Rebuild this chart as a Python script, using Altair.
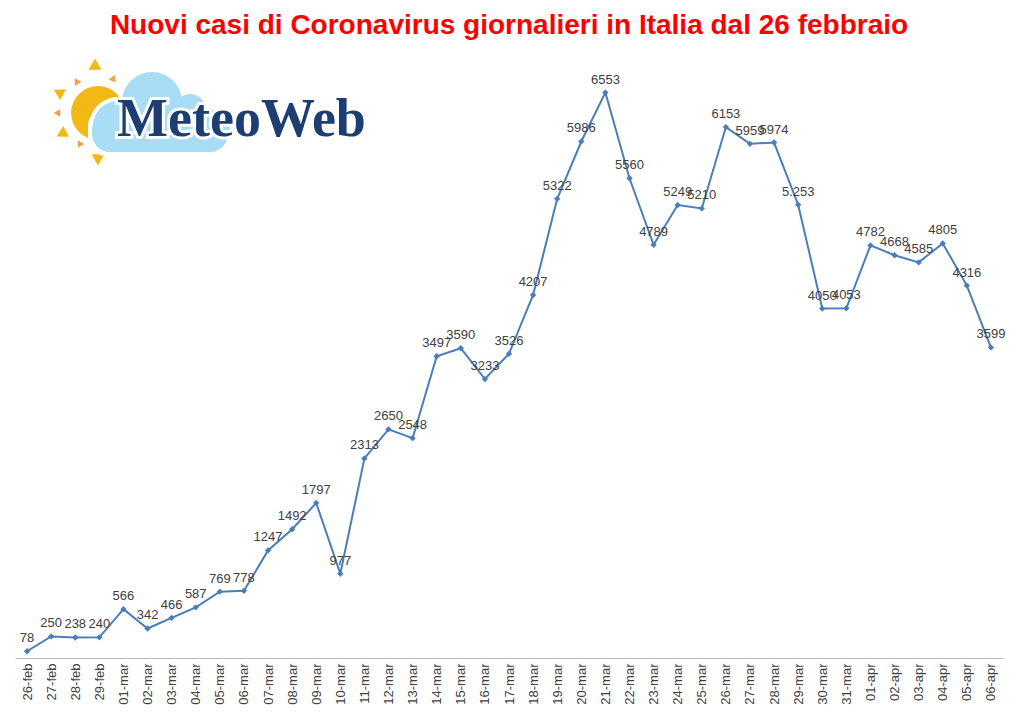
import altair as alt
import pandas as pd

dates = ["26-feb", "27-feb", "28-feb", "29-feb",
         "01-mar", "02-mar", "03-mar", "04-mar", "05-mar", "06-mar", "07-mar", "08-mar",
         "09-mar", "10-mar", "11-mar", "12-mar", "13-mar", "14-mar", "15-mar", "16-mar",
         "17-mar", "18-mar", "19-mar", "20-mar", "21-mar", "22-mar", "23-mar", "24-mar",
         "25-mar", "26-mar", "27-mar", "28-mar", "29-mar", "30-mar", "31-mar",
         "01-apr", "02-apr", "03-apr", "04-apr", "05-apr", "06-apr"]
cases = [78, 250, 238, 240,
         566, 342, 466, 587, 769, 778, 1247, 1492,
         1797, 977, 2313, 2650, 2548, 3497, 3590, 3233,
         3526, 4207, 5322, 5986, 6553, 5560, 4789, 5249,
         5210, 6153, 5959, 5974, 5253, 4050, 4053,
         4782, 4668, 4585, 4805, 4316, 3599]
labels = ["78", "250", "238", "240",
          "566", "342", "466", "587", "769", "778", "1247", "1492",
          "1797", "977", "2313", "2650", "2548", "3497", "3590", "3233",
          "3526", "4207", "5322", "5986", "6553", "5560", "4789", "5249",
          "5210", "6153", "5959", "5974", "5.253", "4050", "4053",
          "4782", "4668", "4585", "4805", "4316", "3599"]

df = pd.DataFrame({"date": dates, "cases": cases, "label": labels})

LINE = "#4a7ebb"
x_enc = alt.X("date:N", sort=dates,
              scale=alt.Scale(type="point", padding=0.5),
              axis=alt.Axis(title=None, labelAngle=270, labelFontSize=13,
                            labelFont="Liberation Sans", labelColor="#404040",
                            ticks=False, domainColor="#b8b8b8", domainWidth=1,
                            labelPadding=5, grid=False))
y_enc = alt.Y("cases:Q", scale=alt.Scale(domain=[0, 7000]), axis=None)

base = alt.Chart(df).encode(x=x_enc, y=y_enc)
line = base.mark_line(color=LINE, strokeWidth=2)
pts = base.mark_point(shape="diamond", filled=True, color=LINE, size=40, opacity=1)
txt = base.mark_text(fontSize=13, font="Liberation Sans", color="#404040",
                     baseline="alphabetic", dy=-9).encode(text="label:N")

# ---- logo decoration (plot-pixel coordinates) ----
one = pd.DataFrame({"k": [0]})
OX, OY = 15, 54  # plot origin on page

def P(px, py):
    return dict(x=alt.value(px - OX), y=alt.value(py - OY))

deco = []
SUN = "#f2b816"
ORANGE = "#f5a04a"
rays = [(95, 66, 0, SUN, 170), (98, 158, 180, SUN, 170), (60, 93, 298, SUN, 150),
        (63, 133, 241, SUN, 150), (77, 82, 327, ORANGE, 60), (58, 113, 270, ORANGE, 60),
        (80, 144, 210, ORANGE, 60), (113, 79, 24, ORANGE, 60)]
for rx, ry, ang, col, sz in rays:
    deco.append(alt.Chart(one).mark_point(shape="triangle", filled=True, color=col,
                                          size=sz, angle=ang, opacity=1).encode(**P(rx, ry)))
deco.append(alt.Chart(one).mark_circle(color=SUN, size=2900, opacity=1).encode(**P(98, 113)))

CLOUD = "#a9dcf5"
cloud_circles = [(152, 102, 60), (118, 126, 50), (190, 110, 32), (212, 128, 36)]
for c, extra in (("white", 8), (CLOUD, 0)):
    deco.append(alt.Chart(one).mark_rect(color=c, cornerRadius=18, opacity=1).encode(
        x=alt.value(92 - OX - extra / 2), x2=alt.value(228 - OX + extra / 2),
        y=alt.value(112 - OY - extra / 2), y2=alt.value(152 - OY + extra / 2)))
    for cx, cy, d in cloud_circles:
        deco.append(alt.Chart(one).mark_circle(color=c, size=(d + extra) ** 2, opacity=1)
                    .encode(**P(cx, cy)))

deco.append(alt.Chart(one).mark_text(text="MeteoWeb", font="Liberation Serif", fontWeight="bold",
                                     fontSize=54, align="left", baseline="alphabetic",
                                     color="white", stroke="white", strokeWidth=6)
            .encode(**P(117, 136)))
deco.append(alt.Chart(one).mark_text(text="MeteoWeb", font="Liberation Serif", fontWeight="bold",
                                     fontSize=54, align="left", baseline="alphabetic",
                                     color="#1d3e72")
            .encode(**P(117, 136)))

chart = alt.layer(*deco, line, pts, txt).properties(
    width=988, height=604,
    title=alt.TitleParams("Nuovi casi di Coronavirus giornalieri in Italia dal 26 febbraio",
                          font="Liberation Sans", fontSize=28,
                          fontWeight="bold", color="#ff0000", anchor="middle", offset=14),
    autosize=alt.AutoSizeParams(type="none"),
    padding={"left": 7, "top": 46, "right": 13, "bottom": 56},
    background="white",
).configure_view(stroke=None)

chart.save("out.html", embed_options={"renderer": "svg", "actions": False})
